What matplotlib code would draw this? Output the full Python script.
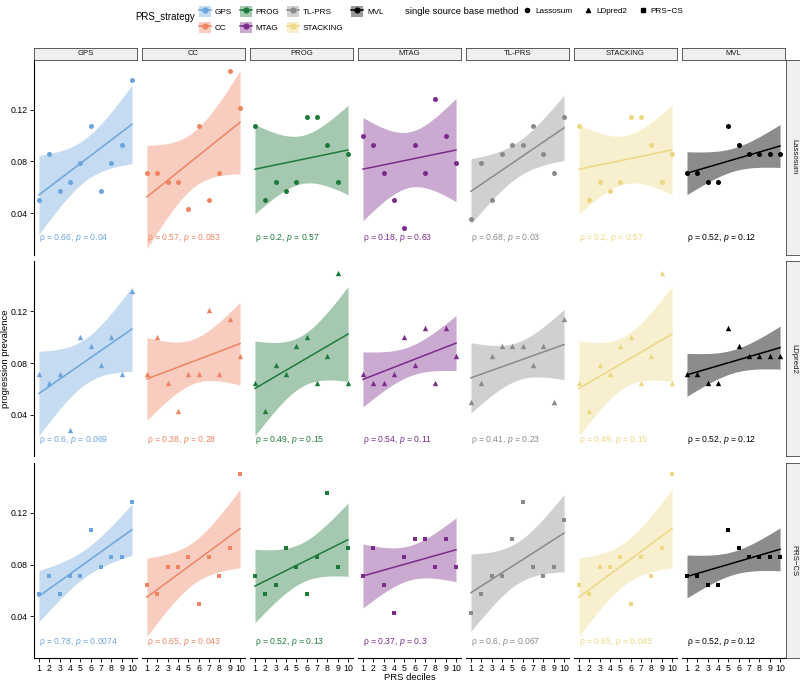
import numpy as np
import matplotlib
matplotlib.use("Agg")
from matplotlib import pyplot
from matplotlib.patches import Patch
from matplotlib.lines import Line2D

pyplot.rcParams["font.family"] = ["Liberation Sans", "DejaVu Sans"]
pyplot.rcParams["mathtext.fontset"] = "custom"
pyplot.rcParams["mathtext.it"] = "Liberation Sans:italic"
pyplot.rcParams["mathtext.rm"] = "Liberation Sans"

deciles = np.arange(1, 11)
strategies = ["GPS", "CC", "PROG", "MTAG", "TL-PRS", "STACKING", "MVL"]
methods = ["Lassosum", "LDpred2", "PRS\u2212CS"]
colors = ["#6CA5DE", "#EE8462", "#1E7A3A", "#7B2C8B", "#8A8A8A", "#EDD782", "#000000"]
markers = ["o", "^", "s"]

# progression prevalence per PRS decile, one dict per base method
lassosum = {
    "GPS":      [0.0500, 0.0857, 0.0571, 0.0643, 0.0786, 0.1071, 0.0571, 0.0786, 0.0929, 0.1429],
    "CC":       [0.0714, 0.0714, 0.0643, 0.0643, 0.0429, 0.1071, 0.0500, 0.0714, 0.1500, 0.1214],
    "PROG":     [0.1071, 0.0500, 0.0643, 0.0571, 0.0643, 0.1143, 0.1143, 0.0929, 0.0643, 0.0857],
    "MTAG":     [0.1000, 0.0929, 0.0714, 0.0500, 0.0286, 0.0929, 0.0714, 0.1286, 0.1000, 0.0786],
    "TL-PRS":   [0.0357, 0.0786, 0.0500, 0.0857, 0.0929, 0.0929, 0.1071, 0.0857, 0.0714, 0.1143],
    "STACKING": [0.1071, 0.0500, 0.0643, 0.0571, 0.0643, 0.1143, 0.1143, 0.0929, 0.0643, 0.0857],
    "MVL":      [0.0714, 0.0714, 0.0643, 0.0643, 0.1071, 0.0929, 0.0857, 0.0857, 0.0857, 0.0857],
}
ldpred2 = {
    "GPS":      [0.0714, 0.0643, 0.0714, 0.0286, 0.1000, 0.0929, 0.0786, 0.1000, 0.0714, 0.1357],
    "CC":       [0.0714, 0.1000, 0.0643, 0.0429, 0.0714, 0.0714, 0.1214, 0.0714, 0.1143, 0.0857],
    "PROG":     [0.0643, 0.0429, 0.0786, 0.0714, 0.0929, 0.1000, 0.0643, 0.0857, 0.1500, 0.0643],
    "MTAG":     [0.0714, 0.0643, 0.0643, 0.0714, 0.1000, 0.0786, 0.1071, 0.0643, 0.1071, 0.0857],
    "TL-PRS":   [0.0500, 0.0643, 0.0857, 0.0929, 0.0929, 0.0929, 0.0786, 0.0929, 0.0500, 0.1143],
    "STACKING": [0.0643, 0.0429, 0.0786, 0.0714, 0.0929, 0.1000, 0.0643, 0.0857, 0.1500, 0.0643],
    "MVL":      [0.0714, 0.0714, 0.0643, 0.0643, 0.1071, 0.0929, 0.0857, 0.0857, 0.0857, 0.0857],
}
prscs = {
    "GPS":      [0.0571, 0.0714, 0.0571, 0.0714, 0.0714, 0.1071, 0.0786, 0.0857, 0.0857, 0.1286],
    "CC":       [0.0643, 0.0571, 0.0786, 0.0786, 0.0857, 0.0500, 0.0857, 0.0714, 0.0929, 0.1500],
    "PROG":     [0.0714, 0.0571, 0.0643, 0.0929, 0.0786, 0.0571, 0.0857, 0.1357, 0.0786, 0.0929],
    "MTAG":     [0.0714, 0.0929, 0.0643, 0.0429, 0.0857, 0.1000, 0.1000, 0.0786, 0.1000, 0.0786],
    "TL-PRS":   [0.0429, 0.0571, 0.0714, 0.0714, 0.1000, 0.1286, 0.0786, 0.0714, 0.0786, 0.1143],
    "STACKING": [0.0643, 0.0571, 0.0786, 0.0786, 0.0857, 0.0500, 0.0857, 0.0714, 0.0929, 0.1500],
    "MVL":      [0.0714, 0.0714, 0.0643, 0.0643, 0.1071, 0.0929, 0.0857, 0.0857, 0.0857, 0.0857],
}

# spearman rho / p shown in each panel
rho_lassosum = ["0.66", "0.57", "0.2", "0.18", "0.68", "0.2", "0.52"]
p_lassosum = ["0.04", "0.083", "0.57", "0.63", "0.03", "0.57", "0.12"]
rho_ldpred2 = ["0.6", "0.38", "0.49", "0.54", "0.41", "0.49", "0.52"]
p_ldpred2 = ["0.069", "0.28", "0.15", "0.11", "0.23", "0.15", "0.12"]
rho_prscs = ["0.78", "0.65", "0.52", "0.37", "0.6", "0.65", "0.52"]
p_prscs = ["0.0074", "0.043", "0.13", "0.3", "0.067", "0.043", "0.12"]

rows = [(lassosum, rho_lassosum, p_lassosum),
        (ldpred2, rho_ldpred2, p_ldpred2),
        (prscs, rho_prscs, p_prscs)]

W, H = 800.0, 682.0
fig = pyplot.figure(figsize=(8, 6.82), dpi=100)
axs = fig.subplots(3, 7, sharex=True, sharey=True,
                   gridspec_kw=dict(left=34.3 / W, right=784.7 / W,
                                    top=1 - 59.5 / H, bottom=1 - 658 / H,
                                    wspace=0.055, hspace=0.033))

xs = np.linspace(1, 10, 80)
tcrit = 2.306  # t(0.975, df=8)
msize = [13, 15, 12]

for r, (data, rhos, ps) in enumerate(rows):
    for c, strat in enumerate(strategies):
        ax = axs[r, c]
        y = np.array(data[strat])
        col = colors[c]

        # lm fit with 95% band, like geom_smooth(method="lm")
        slope, icpt = np.polyfit(deciles, y, 1)
        resid = y - (icpt + slope * deciles)
        s = np.sqrt(np.sum(resid ** 2) / (len(y) - 2))
        sxx = np.sum((deciles - deciles.mean()) ** 2)
        fit = icpt + slope * xs
        se = s * np.sqrt(1.0 / len(y) + (xs - deciles.mean()) ** 2 / sxx)
        ax.fill_between(xs, fit - tcrit * se, fit + tcrit * se, color=col,
                        alpha=0.4 if c != 6 else 0.45, lw=0)
        ax.plot(xs, fit, color=col, lw=1.1)
        ax.scatter(deciles, y, color=col, marker=markers[r], s=msize[r],
                   lw=0, zorder=3)
        ax.text(1, 0.0205, "\u03c1 = %s, $\\mathit{p}$ = %s" % (rhos[c], ps[c]),
                color=col, fontsize=6.2, ha="left", va="center")

        ax.set_xlim(0.55, 10.45)
        ax.set_ylim(0.0079, 0.1588)
        ax.set_xticks(deciles)
        ax.set_yticks([0.04, 0.08, 0.12])
        ax.set_yticklabels(["0.04", "0.08", "0.12"])
        for sp in ax.spines.values():
            sp.set_visible(False)
        ax.tick_params(length=3, width=0.6, labelsize=6.3, pad=1.5,
                       left=(c == 0), bottom=(r == 2),
                       labelleft=(c == 0), labelbottom=(r == 2))
        if c == 0:
            ax.spines["left"].set_visible(True)
            ax.spines["left"].set_linewidth(0.8)
        if r == 2:
            ax.spines["bottom"].set_visible(True)
            ax.spines["bottom"].set_linewidth(0.8)

# facet strips
def strip(rect, text, rot=0):
    sa = fig.add_axes(rect)
    sa.set_facecolor("#EFEFEF")
    sa.set_xticks([])
    sa.set_yticks([])
    for sp in sa.spines.values():
        sp.set_color("#444444")
        sp.set_linewidth(0.6)
    sa.text(0.5, 0.5, text, ha="center", va="center", fontsize=5.6,
            rotation=rot, color="#1A1A1A", transform=sa.transAxes)

for c, strat in enumerate(strategies):
    pos = axs[0, c].get_position()
    strip([pos.x0, pos.y1, pos.width, 12 / H], strat)
for r, m in enumerate(methods):
    pos = axs[r, 6].get_position()
    strip([785.5 / W, pos.y0, 16 / W, pos.height], m, rot=-90)

fig.text(5.5 / W, 1 - 359 / H, "progression prevalence", rotation=90,
         ha="center", va="center", fontsize=6.8)
fig.text(409.5 / W, 1 - 678 / H, "PRS deciles", ha="center", va="center",
         fontsize=6.8)

# legends
fig.text(195 / W, 1 - 17.5 / H, "PRS_strategy", ha="right", va="center",
         fontsize=6.9)
handles = [(Patch(facecolor=colors[i], alpha=0.4, lw=0),
            Line2D([], [], color=colors[i], lw=1.1, marker="o", ms=3.4))
           for i in range(len(strategies))]
fig.legend(handles, strategies, ncol=4, loc="center left",
           bbox_to_anchor=(199 / W, 1 - 19.5 / H), frameon=False,
           fontsize=5.9, handlelength=1.5, handleheight=1.75,
           handletextpad=0.45, columnspacing=0.9, labelspacing=0.55,
           borderpad=0, borderaxespad=0)

fig.text(405 / W, 1 - 11.5 / H, "single source base method", ha="left",
         va="center", fontsize=6.8)
mhandles = [Line2D([], [], color="black", lw=0, marker=m, ms=3)
            for m in markers]
fig.legend(mhandles, methods, ncol=3, loc="center left",
           bbox_to_anchor=(523 / W, 1 - 11.5 / H), frameon=False,
           fontsize=5.9, handlelength=1.0, handletextpad=0.5,
           columnspacing=1.4, borderpad=0, borderaxespad=0)

fig.savefig("out.png", dpi=100)
